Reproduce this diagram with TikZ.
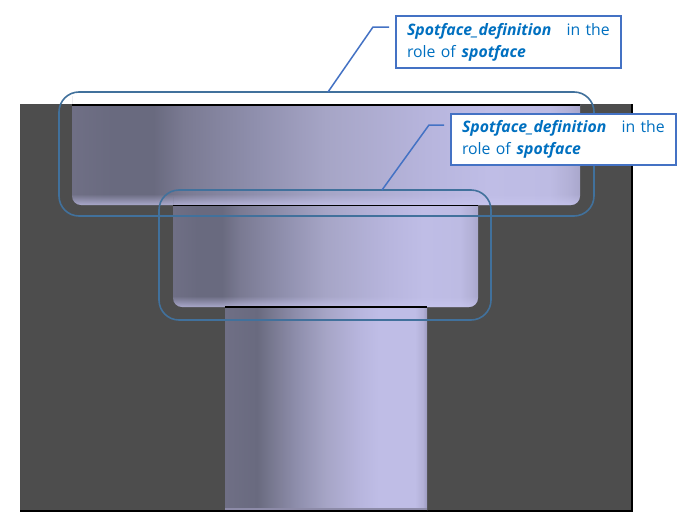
\documentclass[tikz,border=0pt]{standalone}
\usepackage{fontspec}
\setmainfont{Open Sans}
\usetikzlibrary{fadings}
\definecolor{plate}{HTML}{4D4D4D}
\definecolor{ringc}{HTML}{41719C}
\definecolor{boxc}{HTML}{4472C4}
\definecolor{textc}{HTML}{0070C0}
\definecolor{glow}{HTML}{C9C7F0}
\definecolor{sa}{HTML}{6F6F85}
\definecolor{sb}{HTML}{696A7F}
\definecolor{sc}{HTML}{7A7A92}
\definecolor{sd}{HTML}{8F8FAD}
\definecolor{se}{HTML}{A6A5C6}
\definecolor{sf}{HTML}{B7B5DD}
\definecolor{sg}{HTML}{BFBDE6}
\definecolor{sh}{HTML}{BDBBE3}
\definecolor{si}{HTML}{B2B0D6}
\definecolor{sj}{HTML}{A9A7CC}
\definecolor{sk}{HTML}{9C9AC0}
\pgfdeclarehorizontalshading{topface}{100bp}{
 color(0bp)=(sa);color(25bp)=(sa);color(29bp)=(sb);color(33bp)=(sb);
 color(36bp)=(sc);color(43bp)=(sd);color(50bp)=(se);color(60bp)=(sf);
 color(66bp)=(sg);color(72bp)=(sh);color(74bp)=(si);color(75bp)=(sj);color(100bp)=(sj)}
\pgfdeclarehorizontalshading{shaftface}{100bp}{
 color(0bp)=(sa);color(25bp)=(sa);color(33bp)=(sb);
 color(37bp)=(sc);color(43bp)=(sd);color(50bp)=(se);color(58bp)=(sf);
 color(63bp)=(sg);color(72bp)=(sg);color(74bp)=(si);color(75bp)=(sk);color(100bp)=(sk)}
\tikzset{
 ringbox/.style={draw=ringc,line width=1.6pt,rounded corners=20pt,inner sep=0pt},
 notebox/.style={draw=boxc,fill=white,line width=1.7pt,text=textc,inner sep=0pt,align=left,
   minimum width=225pt,text width=203pt,font=\fontsize{15.8}{22}\selectfont},
 leader/.style={draw=boxc,line width=1.5pt},
 rimline/.style={draw=black,line width=1.5pt},
}
\newcommand{\noteterm}[1]{\textbf{\textit{#1}}}
\newcommand{\faceoutline}[4]{(#1,#2) -- (#3,#2) [rounded corners=9pt] -- (#3,#4) -- (#1,#4) -- (#1,#2) [sharp corners] -- cycle}
\begin{document}
\begin{tikzpicture}[x=1pt,y=-1pt]
\useasboundingbox (0,0) rectangle (698,530);
\fill[white] (0,0) rectangle (698,530);
% plate
\fill[plate] (20,104) rectangle (632,511);
\draw[black!70,line width=.8pt] (20,511) -- (20,104) -- (632,104);
\draw[black,line width=1.2pt] (632,104) -- (632,511) -- (20,511);
% faces
\shade[shading=topface] \faceoutline{72}{105}{580}{205};
\begin{scope}
 \clip \faceoutline{72}{105}{580}{205};
 \fill[glow,path fading=north,opacity=.7] (72,194) rectangle (580,205.5);
\end{scope}
\shade[shading=topface] \faceoutline{173}{206}{478}{307};
\begin{scope}
 \clip \faceoutline{173}{206}{478}{307};
 \fill[glow,path fading=north,opacity=.7] (173,296) rectangle (478,307.5);
\end{scope}
\shade[shading=shaftface] (225,307) rectangle (427,510);
\fill[glow!70!black] (225,507.5) rectangle (427,509.5);
\draw[rimline] (72,105) -- (580,105);
\draw[rimline] (173,205.6) -- (478,205.6);
\draw[rimline] (225,307) -- (427,307);
\draw[black,line width=1.6pt] (225,510.5) -- (427,510.5);
% rings
\node[ringbox,minimum width=535pt,minimum height=124pt] (bigring) at (326.5,154) {};
\node[ringbox,minimum width=332pt,minimum height=130pt] (smallring) at (325,255) {};
% callouts
\coordinate (bigfoot) at (328,92);
\coordinate (bigelbow) at (373,27);
\coordinate (bigend) at (389,27);
\coordinate (smallfoot) at (382,190);
\coordinate (smallelbow) at (429,125);
\coordinate (smallend) at (444,125);
\draw[leader] (bigfoot) -- (bigelbow) -- (bigend);
\draw[leader] (smallfoot) -- (smallelbow) -- (smallend);
\node[notebox,minimum height=52pt] (noteone) at (508.5,42) {\noteterm{Spotface\_definition}\hspace{10pt} in the\\role of \noteterm{spotface}};
\node[notebox,minimum height=51pt] (notetwo) at (563.5,139.5) {\noteterm{Spotface\_definition}\hspace{10pt} in the\\role of \noteterm{spotface}};
\end{tikzpicture}
\end{document}
